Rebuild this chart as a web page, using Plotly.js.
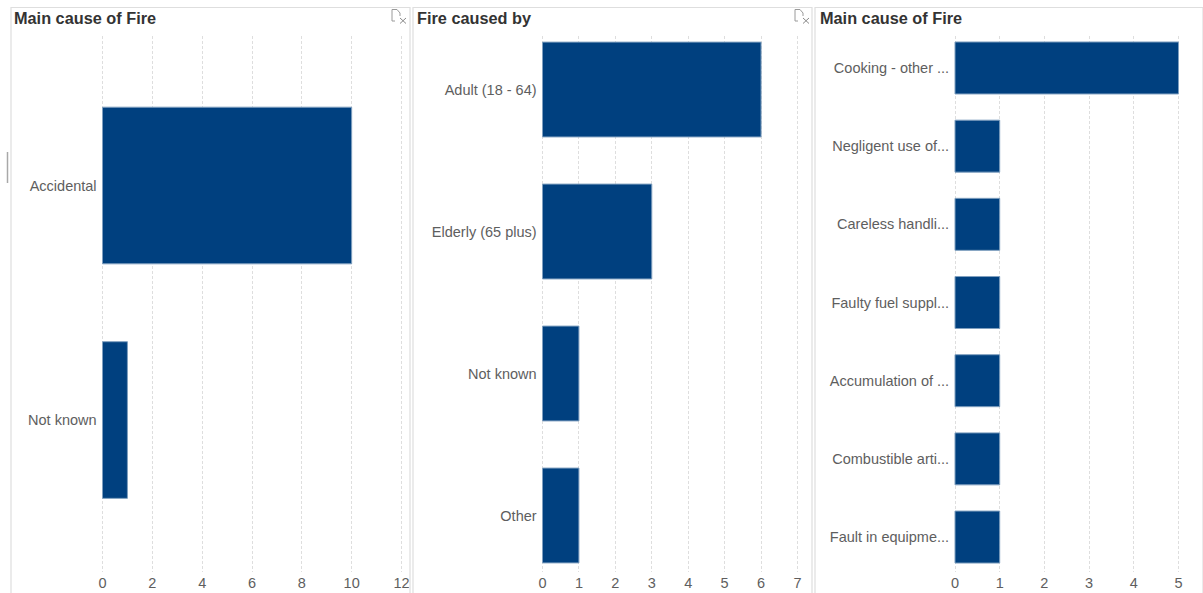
<!DOCTYPE html>
<html>
<head>
<meta charset="utf-8">
<script src="https://cdn.plot.ly/plotly-3.0.1.min.js"></script>
<style>html,body{margin:0;padding:0;background:#fff;overflow:hidden}</style>
</head>
<body>
<div id="chart" style="width:1203px;height:593px"></div>
<script>
// Data
const causeCategories = ["Accidental", "Not known"];
const causeValues = [10, 1];
const causedByCategories = ["Adult (18 - 64)", "Elderly (65 plus)", "Not known", "Other"];
const causedByValues = [6, 3, 1, 1];
const detailCategories = ["Cooking - other ...", "Negligent use of...", "Careless handli...", "Faulty fuel suppl...", "Accumulation of ...", "Combustible arti...", "Fault in equipme..."];
const detailValues = [5, 1, 1, 1, 1, 1, 1];
const panelTitles = ["Main cause of Fire", "Fire caused by", "Main cause of Fire"];

const W = 1203, H = 593;
const px = v => v / W, py = v => 1 - v / H;
const plotTop = 36, plotBottom = 572, PAD = 1.5;
const NAVY = "#00407F", TXT = "#5e5e5e", GRID = "#dedede";
const tickFont = {family: "Liberation Sans, Arial, sans-serif", size: 14.5, color: TXT};

const panels = [
  {cats: causeCategories, vals: causeValues, x0: 102.5, x1: 401.5, max: 12, dt: 2, yr: [1.648, -0.6375], bw: 0.668},
  {cats: causedByCategories, vals: causedByValues, x0: 542.5, x1: 797.5, max: 7, dt: 1, yr: [3.398, -0.377], bw: 0.668},
  {cats: detailCategories, vals: detailValues, x0: 955, x1: 1178.5, max: 5, dt: 1, yr: [6.447, -0.409], bw: 0.665}
];

const data = [], layout = {
  width: W, height: H, margin: {l: 0, r: 0, t: 0, b: 0},
  paper_bgcolor: "#fff", plot_bgcolor: "#fff", showlegend: false,
  annotations: [], shapes: []
};

panels.forEach((p, i) => {
  const n = i === 0 ? "" : String(i + 1);
  const pad = PAD * p.max / (p.x1 - p.x0);
  data.push({
    type: "bar", orientation: "h", x: p.vals, y: p.cats, width: p.bw,
    xaxis: "x" + n, yaxis: "y" + n,
    marker: {color: NAVY, line: {color: "#7f9fbf", width: 1}},
    hoverinfo: "x+y"
  });
  layout["xaxis" + n] = {
    domain: [px(p.x0 - PAD), px(p.x1 + PAD)], range: [-pad, p.max + pad], anchor: "y" + n, dtick: p.dt, tick0: 0,
    showgrid: true, gridcolor: GRID, griddash: "3px,2px", gridwidth: 1,
    zeroline: false, showline: false, ticks: "", tickfont: tickFont
  };
  layout["yaxis" + n] = {
    domain: [py(plotBottom), py(plotTop)], range: p.yr, anchor: "x" + n, type: "category",
    categoryorder: "array", categoryarray: p.cats,
    showgrid: false, zeroline: false, showline: false,
    ticks: "outside", ticklen: 0.5, tickcolor: "rgba(0,0,0,0)", tickfont: tickFont, ticklabelshift: -1.5
  };
});

// panel titles
[14, 416.5, 819.5].forEach((x, i) => layout.annotations.push({
  text: "<b>" + panelTitles[i] + "</b>", xref: "paper", yref: "paper",
  x: px(x), y: py(18), xanchor: "left", yanchor: "middle", showarrow: false, xshift: -2,
  font: {family: "Liberation Sans, Arial, sans-serif", size: 16.3, color: "#333"}
}));

// panel frames
[[11, 410], [413, 812], [815, 1203]].forEach(([a, b]) => layout.shapes.push({
  type: "path", xref: "paper", yref: "paper",
  path: `M${px(a)} ${py(593)} L${px(a)} ${py(7.5)} L${px(b)} ${py(7.5)} L${px(b)} ${py(593)}`,
  line: {color: "#dedede", width: 1.2}
}));

// clear-selection icons
[392, 795].forEach(x => {
  const P = (a, b) => `${px(x + a)} ${py(b)}`;
  layout.shapes.push({
    type: "path", xref: "paper", yref: "paper",
    path: `M${P(3, 21)} L${P(0, 21)} L${P(0, 9.5)} L${P(5, 9.5)} L${P(8, 13)} L${P(8, 16)}`,
    line: {color: "#9a9a9a", width: 1}
  }, {
    type: "path", xref: "paper", yref: "paper",
    path: `M${P(8, 18)} L${P(14, 23.5)} M${P(14, 18)} L${P(8, 23.5)}`,
    line: {color: "#8a8a8a", width: 1}
  });
});

// small handle at the left edge
layout.shapes.push({
  type: "line", xref: "paper", yref: "paper",
  x0: px(7.5), x1: px(7.5), y0: py(152), y1: py(183),
  line: {color: "#a8a8a8", width: 1.5}
});

Plotly.newPlot("chart", data, layout, {displayModeBar: false, responsive: false});
</script>
</body>
</html>
